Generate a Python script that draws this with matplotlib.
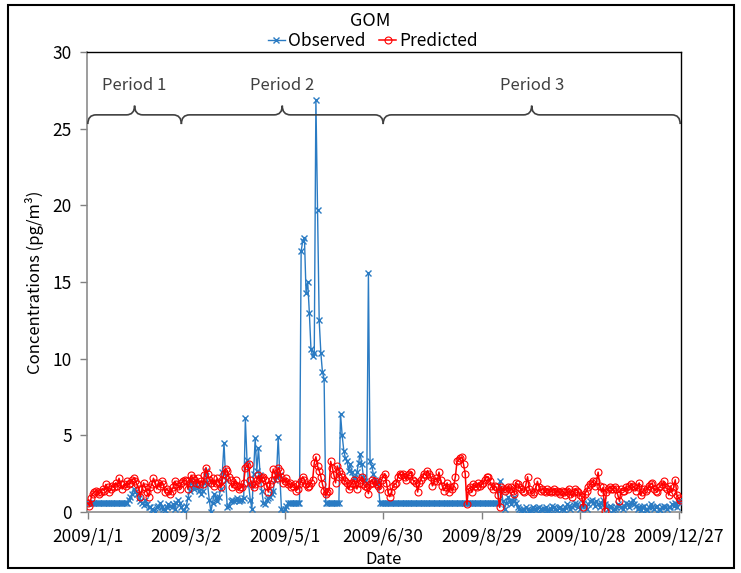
import numpy as np
import pandas as pd
import matplotlib
matplotlib.use('Agg')
import matplotlib.pyplot as plt
import matplotlib.dates as mdates
from matplotlib.path import Path
from matplotlib.patches import PathPatch, Rectangle

plt.rcParams['font.family'] = ['Noto Sans CJK SC', 'DejaVu Sans']

# daily GOM concentrations (pg/m3), 2009/1/1 - 2009/12/28, one list per month
obs_jan = [0.6, 0.6, 0.6, 0.6, 0.6, 0.6, 0.6, 0.6, 0.6, 0.6,
           0.6, 0.6, 0.6, 0.6, 0.6, 0.6, 0.6, 0.6, 0.6, 0.6,
           0.6, 0.6, 0.6, 0.6, 0.6, 0.8, 1.0, 1.2, 1.5, 1.3, 1.2]
obs_feb = [0.9, 0.7, 0.6, 0.45, 0.8, 0.5, 0.35, 0.3, 0.2, 0.1,
           0.0, 0.3, 0.4, 0.6, 0.35, 0.2, 0.1, 0.3, 0.5, 0.4,
           0.3, 0.5, 0.2, 0.6, 0.8, 0.6, 0.3, 0.1]
obs_mar = [0.0, 0.4, 0.9, 1.4, 2.1, 1.7, 1.5, 1.8, 1.6, 1.4,
           1.2, 1.4, 1.9, 2.7, 1.8, 0.8, 0.0, 0.6, 1.2, 0.9,
           0.7, 1.0, 1.5, 2.6, 4.5, 2.1, 0.3, 0.4, 0.7, 0.8, 0.7]
obs_apr = [0.8, 0.9, 0.7, 0.8, 0.8, 0.9, 6.1, 3.4, 1.8, 0.8,
           0.2, 2.5, 4.8, 2.7, 4.2, 2.4, 1.4, 0.6, 0.5, 0.8,
           0.9, 1.0, 1.2, 1.4, 2.1, 2.4, 4.9, 2.4, 0.2, 0.0]
obs_may = [0.2, 0.4, 0.6, 0.6, 0.6, 0.6, 0.6, 0.6, 0.6, 0.6,
           17.0, 17.7, 17.9, 14.3, 15.0, 13.0, 10.6, 10.2, 10.4, 26.9,
           19.7, 12.5, 10.4, 9.1, 8.7, 0.6, 0.6, 0.6, 0.6, 0.6, 0.6]
obs_jun = [0.6, 0.6, 0.6, 6.4, 5.0, 4.0, 3.5, 3.3, 2.7, 3.1,
           2.6, 2.3, 2.2, 2.6, 3.2, 3.8, 3.1, 2.3, 2.0, 1.9,
           15.6, 3.3, 3.0, 2.5, 2.1, 2.0, 1.9, 0.6, 0.6, 0.6]
obs_jul = [0.6, 0.6, 0.6, 0.6, 0.6, 0.6, 0.6, 0.6, 0.6, 0.6,
           0.6, 0.6, 0.6, 0.6, 0.6, 0.6, 0.6, 0.6, 0.6, 0.6,
           0.6, 0.6, 0.6, 0.6, 0.6, 0.6, 0.6, 0.6, 0.6, 0.6, 0.6]
obs_aug = [0.6, 0.6, 0.6, 0.6, 0.6, 0.6, 0.6, 0.6, 0.6, 0.6,
           0.6, 0.6, 0.6, 0.6, 0.6, 0.6, 0.6, 0.6, 0.6, 0.6,
           0.6, 0.6, 0.6, 0.6, 0.6, 0.6, 0.6, 0.6, 0.6, 0.6, 0.6]
obs_sep = [0.6, 0.6, 0.6, 0.6, 0.6, 0.6, 0.6, 0.6, 2.0, 1.5,
           0.7, 0.2, 0.6, 1.0, 0.7, 0.5, 0.7, 1.0, 0.6, 0.3,
           0.2, 0.1, 0.2, 0.1, 0.3, 0.2, 0.05, 0.15, 0.3, 0.2]
obs_oct = [0.1, 0.25, 0.35, 0.2, 0.1, 0.2, 0.3, 0.15, 0.1, 0.2,
           0.4, 0.3, 0.2, 0.1, 0.25, 0.3, 0.2, 0.1, 0.3, 0.5,
           0.4, 0.2, 0.3, 0.45, 0.6, 0.5, 0.3, 0.2, 0.4, 0.6, 0.4]
obs_nov = [0.2, 0.5, 0.7, 0.8, 0.6, 0.4, 0.7, 0.5, 0.3, 0.6,
           0.8, 0.5, 0.3, 0.2, 0.4, 0.3, 0.1, 0.2, 0.3, 0.5,
           0.4, 0.3, 0.2, 0.4, 0.6, 0.5, 0.3, 0.6, 0.8, 0.5]
obs_dec = [0.4, 0.2, 0.3, 0.15, 0.3, 0.4, 0.2, 0.1, 0.3, 0.5,
           0.3, 0.2, 0.3, 0.4, 0.2, 0.1, 0.3, 0.4, 0.3, 0.2,
           0.35, 0.3, 0.5, 0.4, 0.6, 0.3, 0.7, 0.6]

pred_jan = [0.6, 0.4, 0.9, 1.2, 1.3, 1.4, 1.3, 1.2, 1.3, 1.5,
            1.4, 1.8, 1.6, 1.3, 1.5, 1.7, 1.6, 1.9, 1.7, 2.2,
            1.8, 1.5, 1.8, 1.7, 2.0, 1.8, 1.9, 2.1, 2.2, 2.0, 1.8]
pred_feb = [1.5, 1.0, 1.5, 1.9, 1.6, 1.3, 1.0, 1.6, 1.8, 2.2,
            1.9, 1.5, 1.9, 1.7, 2.0, 1.8, 1.3, 1.5, 1.4, 1.2,
            1.4, 1.6, 2.0, 1.8, 1.7, 1.5, 1.9, 2.0]
pred_mar = [2.1, 2.0, 1.5, 1.9, 2.4, 2.2, 2.1, 1.9, 2.2, 1.8,
            2.0, 1.8, 2.4, 2.9, 2.5, 2.1, 1.9, 2.2, 1.7, 1.9,
            2.2, 1.9, 1.6, 2.1, 2.5, 2.8, 2.7, 2.3, 2.1, 1.6, 1.8]
pred_apr = [2.1, 1.7, 1.5, 1.6, 1.6, 1.9, 2.9, 3.0, 3.1, 2.1,
            1.8, 1.6, 1.8, 2.1, 2.4, 1.9, 2.2, 2.3, 2.1, 1.7,
            1.3, 1.8, 2.1, 2.8, 2.5, 2.2, 2.9, 2.7, 2.3, 1.9]
pred_may = [2.0, 2.2, 1.8, 1.9, 1.6, 1.7, 1.8, 1.4, 1.5, 1.8,
            2.0, 2.3, 2.1, 1.8, 1.6, 1.7, 1.9, 2.1, 3.2, 3.6,
            3.0, 2.7, 2.3, 1.8, 1.4, 1.2, 1.3, 1.4, 3.3, 2.9, 2.4]
pred_jun = [1.9, 3.0, 2.7, 2.5, 2.3, 2.1, 2.0, 1.9, 1.5, 1.7,
            1.9, 2.1, 1.8, 1.5, 1.9, 2.1, 2.3, 1.8, 1.7, 1.6,
            1.2, 1.8, 2.1, 1.9, 2.0, 1.8, 1.7, 1.5, 2.1, 2.3]
pred_jul = [2.5, 1.9, 1.3, 1.0, 1.3, 1.7, 1.8, 1.9, 2.3, 2.5,
            2.4, 2.5, 2.3, 2.1, 2.4, 2.5, 2.6, 2.1, 2.0, 1.9,
            1.3, 1.9, 2.1, 2.3, 2.5, 2.4, 2.7, 2.5, 2.3, 1.7, 2.0]
pred_aug = [2.2, 2.0, 2.6, 2.1, 1.7, 1.4, 1.6, 1.9, 1.3, 1.6,
            1.5, 1.7, 2.3, 3.3, 3.4, 3.5, 3.6, 3.1, 2.5, 0.5,
            1.5, 1.6, 1.3, 1.8, 1.7, 1.6, 1.9, 1.7, 1.8, 1.9, 2.1]
pred_sep = [2.3, 2.3, 2.0, 1.7, 1.5, 1.7, 1.6, 1.1, 0.3, 1.6,
            1.5, 1.4, 1.5, 1.6, 1.5, 1.6, 1.4, 1.2, 1.9, 1.8,
            1.6, 1.5, 1.4, 1.3, 1.8, 2.3, 1.5, 1.3, 1.2, 1.3]
pred_oct = [1.6, 2.0, 1.6, 1.4, 1.5, 1.4, 1.3, 1.5, 1.4, 1.3,
            1.4, 1.5, 1.3, 1.4, 1.3, 1.2, 1.4, 1.3, 1.1, 1.4,
            1.5, 1.2, 1.0, 1.3, 1.5, 1.4, 1.3, 1.1, 1.0, 0.35, 1.2]
pred_nov = [1.4, 1.6, 1.8, 1.9, 2.0, 1.7, 2.0, 2.6, 1.7, 1.3,
            1.6, 0.05, 1.3, 1.5, 1.6, 1.5, 1.5, 1.6, 1.5, 1.1,
            0.7, 1.5, 1.4, 1.4, 1.6, 1.5, 1.7, 1.8, 1.7, 1.6]
pred_dec = [1.4, 1.6, 1.9, 1.1, 1.3, 1.5, 1.4, 1.5, 1.7, 1.8,
            1.9, 1.5, 1.4, 1.3, 1.6, 1.7, 1.8, 2.0, 1.6, 1.5,
            1.1, 1.7, 1.3, 1.6, 2.1, 1.1, 0.9, 0.8]

tick_dates = ['2009-01-01', '2009-03-02', '2009-05-01', '2009-06-30',
              '2009-08-29', '2009-10-28', '2009-12-27']
tick_labels = ['2009/1/1', '2009/3/2', '2009/5/1', '2009/6/30',
               '2009/8/29', '2009/10/28', '2009/12/27']
period_names = ['Period 1', 'Period 2', 'Period 3']
period_edges = ['2009-01-01', '2009-02-27', '2009-06-30', '2009-12-28']

observed = np.array(obs_jan + obs_feb + obs_mar + obs_apr + obs_may + obs_jun +
                    obs_jul + obs_aug + obs_sep + obs_oct + obs_nov + obs_dec)
predicted = np.array(pred_jan + pred_feb + pred_mar + pred_apr + pred_may + pred_jun +
                     pred_jul + pred_aug + pred_sep + pred_oct + pred_nov + pred_dec)
dates = pd.date_range('2009-01-01', periods=len(observed), freq='D')

fig = plt.figure(figsize=(7.41, 5.73), dpi=100)
ax = fig.add_axes([87 / 741, 61 / 573, 594 / 741, 460 / 573])

ax.plot(dates, observed, color='#2A7BC3', lw=1.0, marker='x', ms=4, mew=1.0,
        label='Observed', zorder=3)
ax.plot(dates, predicted, color='#FF0000', lw=1.1, marker='o', ms=5, mfc='none',
        mew=0.8, label='Predicted', zorder=4)

ax.set_ylim(0, 30)
ax.set_yticks(np.arange(0, 31, 5))
ax.set_xlim(pd.Timestamp('2009-01-01') - pd.Timedelta(hours=12),
            pd.Timestamp('2009-12-28') + pd.Timedelta(hours=12))
ax.set_xticks(pd.to_datetime(tick_dates))
ax.set_xticklabels(tick_labels)
ax.tick_params(axis='both', labelsize=12.5, color='#808080', length=5, width=1)
ax.tick_params(axis='x', pad=6)
ax.tick_params(axis='y', pad=6)

for side in ['left', 'bottom']:
    ax.spines[side].set_color('#8C8C8C')
    ax.spines[side].set_linewidth(1.2)
for side in ['top', 'right']:
    ax.spines[side].set_color('black')
    ax.spines[side].set_linewidth(1.0)

ax.set_xlabel('Date', fontsize=12, labelpad=4)
ax.set_ylabel('Concentrations (pg/m³)', fontsize=12, labelpad=6)


def brace(ax, x0, x1, y, h=0.6, r=5.0, color='#404040'):
    # curly overbrace from x0 to x1 (dates), tip pointing up at the middle
    a = mdates.date2num(pd.Timestamp(x0))
    b = mdates.date2num(pd.Timestamp(x1))
    m = (a + b) / 2
    verts = [(a, y - h), (a, y), (a + r, y),
             (m - r, y),
             (m, y), (m, y + h),
             (m, y), (m + r, y),
             (b - r, y),
             (b, y), (b, y - h)]
    codes = [Path.MOVETO, Path.CURVE3, Path.CURVE3,
             Path.LINETO,
             Path.CURVE3, Path.CURVE3,
             Path.CURVE3, Path.CURVE3,
             Path.LINETO,
             Path.CURVE3, Path.CURVE3]
    ax.add_patch(PathPatch(Path(verts, codes), fill=False, ec=color, lw=1.2,
                           clip_on=False, zorder=5))
    return m


for i, name in enumerate(period_names):
    mid = brace(ax, period_edges[i], period_edges[i + 1], 25.9)
    ax.text(mid, 27.8, name, ha='center', va='center', fontsize=12, color='#404040')

fig.text(0.5, 1 - 21 / 573, 'GOM', ha='center', va='center', fontsize=13)
fig.legend(loc='center', bbox_to_anchor=(0.503, 1 - 41 / 573), ncol=2, frameon=False,
           fontsize=12.5, handlelength=1.0, handletextpad=0.15, columnspacing=0.8,
           borderpad=0)

fig.add_artist(Rectangle((8 / 741, 5 / 573), 726 / 741, 563 / 573, transform=fig.transFigure,
                         fill=False, ec='black', lw=1.5))

fig.savefig('out.png', dpi=100)
